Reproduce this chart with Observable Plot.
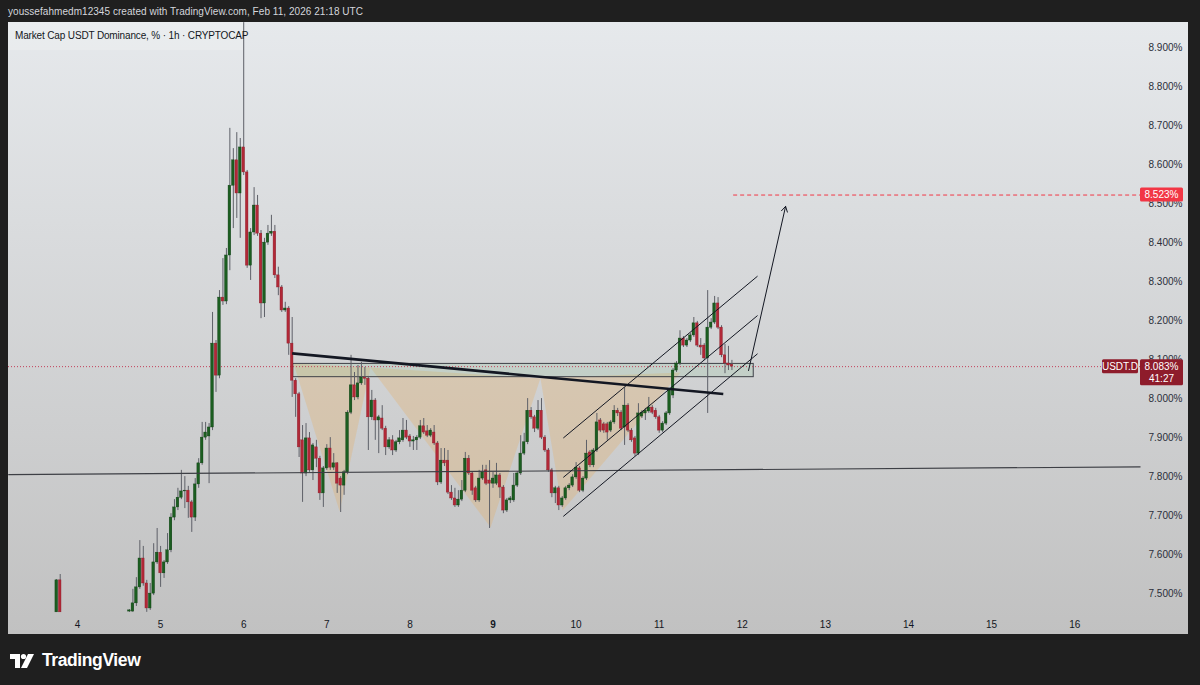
<!DOCTYPE html>
<html><head><meta charset="utf-8">
<script src="https://cdn.jsdelivr.net/npm/d3@7"></script>
<script src="https://cdn.jsdelivr.net/npm/@observablehq/plot@0.6"></script>
<style>
html,body{margin:0;padding:0;background:#1f1f1f;width:1200px;height:685px;overflow:hidden;font-family:"Liberation Sans",Arial,sans-serif;}
#header{position:absolute;left:8px;top:5px;color:#d4d6dc;font-size:10px;line-height:14px;white-space:nowrap;letter-spacing:0.05px;}
#panel{position:absolute;left:8px;top:22px;width:1180px;height:612px;background:linear-gradient(#e6e9ec,#c1c1c1);overflow:hidden;}
#legend{position:absolute;left:0;top:0;width:235px;height:28px;background:rgba(255,255,255,0.18);color:#131722;font-size:10px;letter-spacing:-0.15px;line-height:28px;padding-left:7px;box-sizing:border-box;white-space:nowrap;}
#chart{position:absolute;left:0;top:0;}
#logo{position:absolute;left:10px;top:650px;display:flex;align-items:center;color:#fff;font-size:17.5px;font-weight:bold;letter-spacing:-0.4px;}
</style></head>
<body>
<div id="header">youssefahmedm12345 created with TradingView.com, Feb 11, 2026 21:18 UTC</div>
<div id="panel"><div id="chart"></div><div id="legend">Market Cap USDT Dominance, % · 1h · CRYPTOCAP</div></div>
<div id="logo"><svg width="28" height="16" viewBox="0 0 28 16"><path d="M0 1H10V15H5V6H0Z" fill="#fff"/><circle cx="13.5" cy="3.5" r="2.6" fill="#fff"/><path d="M11 15L18 1H24L17 15Z" fill="#fff"/></svg><span style="margin-left:4px">TradingView</span></div>
<script>
// ---- data: hourly candles of USDT.D (hours counted from Feb 4 00:00 UTC) ----
const earlyHours  = [-6, -5];
const earlyOpens  = [7.453, 7.535];
const earlyHighs  = [7.537, 7.550];
const earlyLows   = [7.453, 7.453];
const earlyCloses = [7.535, 7.453];

const startHour = 15;
const opens = [7.455,7.455,7.476,7.517,7.591,7.527,7.463,7.501,7.581,7.606,7.553,7.581,7.612,7.696,7.722,7.747,7.763,7.765,7.735,7.696,
7.781,7.835,7.901,7.904,7.927,8.142,8.060,8.260,8.250,8.368,8.547,8.612,8.527,8.645,8.581,8.342,8.427,8.496,8.424,8.245,
8.401,8.424,8.429,8.317,8.286,8.227,8.232,8.142,8.047,8.012,7.894,7.809,7.899,7.817,7.876,7.847,7.758,7.822,7.873,7.824,
7.835,7.796,7.778,7.812,7.965,8.035,8.004,8.040,8.055,8.052,7.953,7.996,7.945,7.950,7.924,7.876,7.894,7.868,7.889,7.894,
7.919,7.904,7.891,7.894,7.901,7.930,7.917,7.906,7.914,7.886,7.786,7.842,7.842,7.760,7.745,7.727,7.742,7.765,7.847,7.809,
7.771,7.740,7.796,7.817,7.791,7.783,7.783,7.804,7.773,7.714,7.740,7.740,7.778,7.809,7.860,7.889,7.970,7.953,7.924,7.970,
7.901,7.868,7.817,7.758,7.771,7.727,7.745,7.771,7.778,7.799,7.822,7.765,7.796,7.863,7.830,7.868,7.945,7.935,7.935,7.919,
7.940,7.970,7.965,7.927,7.983,7.919,7.899,7.860,7.955,7.963,7.968,7.978,7.970,7.953,7.919,7.937,7.963,8.009,8.073,8.091,
8.155,8.137,8.150,8.163,8.194,8.137,8.137,8.104,8.183,8.196,8.245,8.183,8.112,8.091,8.088];
const highs = [7.460,7.512,7.542,7.637,7.622,7.535,7.527,7.629,7.668,7.622,7.586,7.655,7.706,7.742,7.771,7.817,7.801,7.776,7.740,7.796,
7.847,7.940,7.940,7.937,8.222,8.150,8.278,8.360,8.386,8.694,8.642,8.683,8.668,8.965,8.586,8.437,8.542,8.522,8.432,8.412,
8.445,8.471,8.445,8.338,8.291,8.248,8.237,8.209,8.052,8.017,7.932,7.937,7.914,7.886,7.894,7.853,7.827,7.883,7.901,7.860,
7.837,7.801,7.817,7.970,8.112,8.068,8.086,8.094,8.081,8.058,8.022,8.001,7.958,7.983,7.930,7.901,7.906,7.894,7.919,7.950,
7.945,7.909,7.904,7.906,7.945,7.950,7.932,7.924,7.932,7.891,7.873,7.873,7.868,7.778,7.771,7.765,7.791,7.863,7.855,7.812,
7.776,7.817,7.830,7.830,7.842,7.812,7.835,7.809,7.778,7.745,7.750,7.809,7.814,7.906,7.912,8.001,7.978,7.958,7.996,8.001,
7.906,7.873,7.822,7.776,7.776,7.750,7.776,7.783,7.806,7.837,7.827,7.801,7.894,7.868,7.873,7.963,7.950,7.940,7.940,7.945,
7.983,7.976,7.970,8.029,7.988,7.924,7.904,7.988,7.970,7.976,8.004,7.983,7.976,7.958,7.942,7.968,8.027,8.078,8.096,8.175,
8.160,8.155,8.168,8.209,8.199,8.155,8.142,8.278,8.206,8.263,8.260,8.188,8.140,8.135,8.099];
const lows = [7.453,7.453,7.468,7.512,7.520,7.453,7.458,7.496,7.576,7.517,7.540,7.576,7.606,7.688,7.714,7.742,7.719,7.694,7.658,7.686,
7.771,7.830,7.894,7.783,7.919,8.017,8.052,8.240,8.242,8.329,8.437,8.463,8.412,8.573,8.335,8.304,8.419,8.417,8.206,8.209,
8.394,8.417,8.309,8.265,8.222,8.222,8.112,8.004,7.953,7.850,7.735,7.801,7.812,7.791,7.824,7.740,7.722,7.817,7.817,7.817,
7.758,7.709,7.753,7.806,7.960,7.996,7.998,8.035,8.035,7.868,7.945,7.894,7.860,7.919,7.855,7.871,7.855,7.863,7.883,7.889,
7.896,7.876,7.868,7.868,7.896,7.909,7.901,7.901,7.881,7.778,7.781,7.827,7.755,7.740,7.722,7.722,7.737,7.760,7.804,7.753,
7.735,7.735,7.791,7.778,7.668,7.771,7.778,7.745,7.706,7.709,7.732,7.735,7.773,7.804,7.855,7.883,7.948,7.914,7.919,7.896,
7.863,7.812,7.747,7.732,7.714,7.722,7.740,7.765,7.773,7.794,7.760,7.760,7.791,7.824,7.824,7.863,7.914,7.912,7.894,7.914,
7.935,7.955,7.919,7.881,7.914,7.889,7.853,7.855,7.950,7.945,7.963,7.960,7.948,7.912,7.914,7.932,7.958,8.001,8.068,8.086,
8.132,8.132,8.145,8.158,8.132,8.112,8.099,7.963,8.178,8.191,8.178,8.106,8.065,8.073,8.073];
const closes = [7.458,7.476,7.517,7.591,7.527,7.463,7.501,7.581,7.606,7.553,7.581,7.612,7.696,7.722,7.747,7.763,7.765,7.735,7.696,7.781,
7.835,7.901,7.914,7.927,8.142,8.060,8.260,8.250,8.368,8.547,8.612,8.527,8.645,8.581,8.342,8.427,8.496,8.424,8.245,8.401,
8.424,8.429,8.317,8.286,8.227,8.232,8.142,8.047,8.012,7.876,7.809,7.899,7.817,7.881,7.847,7.758,7.822,7.873,7.824,7.835,
7.783,7.778,7.812,7.965,8.035,8.004,8.040,8.055,8.052,7.953,7.996,7.945,7.953,7.924,7.876,7.894,7.868,7.889,7.899,7.919,
7.901,7.891,7.894,7.901,7.930,7.914,7.906,7.919,7.886,7.786,7.842,7.835,7.760,7.745,7.727,7.742,7.765,7.847,7.809,7.765,
7.740,7.796,7.812,7.783,7.783,7.796,7.804,7.773,7.714,7.740,7.745,7.778,7.809,7.860,7.889,7.970,7.953,7.924,7.970,7.901,
7.868,7.817,7.758,7.771,7.727,7.745,7.771,7.778,7.799,7.824,7.765,7.796,7.860,7.830,7.868,7.940,7.919,7.919,7.914,7.940,
7.970,7.963,7.924,7.983,7.919,7.894,7.860,7.963,7.965,7.970,7.978,7.965,7.953,7.919,7.937,7.963,8.022,8.073,8.091,8.155,
8.137,8.150,8.163,8.194,8.137,8.132,8.104,8.183,8.196,8.245,8.183,8.112,8.091,8.086,8.083];

// axis ticks
const priceTicks = [7.5,7.6,7.7,7.8,7.9,8.0,8.1,8.2,8.3,8.4,8.5,8.6,8.7,8.8,8.9];
const dayLabels = [4,5,6,7,8,9,10,11,12,13,14,15,16];
const boldDays = [9];

// drawings (hour, value)
const supportHours = [-20, 307];      const supportValues = [7.806, 7.826];
const necklineHours = [62.0, 186.5];  const necklineValues = [8.117, 8.013];
const zoneHours = [62.3, 195.3];      const zoneValues = [8.056, 8.090];
const patternHours  = [62.4, 75.7, 84.6, 119.3, 133.7, 140.1, 174.2];
const patternValues = [8.091, 7.712, 8.081, 7.671, 8.053, 7.714, 8.068];
const channelHours = [140.3, 196.4];
const channelUpper = [7.900, 8.315];
const channelMiddle = [7.799, 8.214];
const channelLower = [7.699, 8.116];
const arrowHours = [193.8, 204.5];    const arrowValues = [8.073, 8.494];
const targetHour = 189.5;             const targetValue = 8.523;
const lastPrice = 8.083;              const countdown = "41:27";
const symbol = "USDT.D";

// ---- build ----
const xDomain = [-19.93, 307.0];
const yDomain = [7.4526, 8.9654];
const candles = [];
earlyHours.forEach((h, i) => candles.push({h, o: earlyOpens[i], hi: earlyHighs[i], lo: earlyLows[i], c: earlyCloses[i]}));
opens.forEach((o, i) => candles.push({h: startHour + i, o, hi: highs[i], lo: lows[i], c: closes[i]}));
const GREEN = "#1b5e20", RED = "#b22837", WICK = "#5e6068";

const tris = [];
[[0,1,2,"L"],[2,3,4,"H"],[4,5,6,"R"]].forEach(([a,b,c,z]) => {
  [a,b,c].forEach(i => tris.push({h: patternHours[i], v: patternValues[i], z}));
});
const seg = (hs, vs) => [{x1: hs[0], y1: vs[0], x2: hs[1], y2: vs[1]}];
const font = "Liberation Sans, Arial, sans-serif";

const chart = Plot.plot({
  width: 1180, height: 612,
  marginLeft: 0, marginRight: 48, marginTop: 0, marginBottom: 22,
  style: {background: "transparent", fontFamily: font, fontSize: "10px", overflow: "visible"},
  x: {type: "linear", domain: xDomain, axis: null},
  y: {type: "linear", domain: yDomain, axis: null},
  marks: [
    Plot.line(tris, {x: "h", y: "v", z: "z", fill: "#e9a955", fillOpacity: 0.27, stroke: "none", curve: "linear-closed"}),
    Plot.rect(seg(zoneHours, zoneValues), {x1: "x1", x2: "x2", y1: "y1", y2: "y2", fill: "#7cc387", fillOpacity: 0.16, stroke: "#3f4148", strokeWidth: 1}),
    Plot.ruleY([lastPrice], {stroke: "#c2405a", strokeWidth: 1, strokeDasharray: "1,2"}),
    Plot.ruleX(candles, {x: "h", y1: "lo", y2: "hi", stroke: WICK, strokeWidth: 1}),
    Plot.rect(candles, {
      x1: d => d.h - 0.375, x2: d => d.h + 0.375,
      y1: d => Math.min(d.o, d.c), y2: d => Math.max(d.o, d.c, Math.min(d.o, d.c) + 0.002),
      fill: d => d.c >= d.o ? GREEN : RED, stroke: d => d.c >= d.o ? "#0c3d10" : "#8c1d2a", strokeWidth: 0.4
    }),
    Plot.link(seg(supportHours, supportValues), {x1: "x1", y1: "y1", x2: "x2", y2: "y2", stroke: "#3d3f45", strokeWidth: 1.2}),
    Plot.link(seg(necklineHours, necklineValues), {x1: "x1", y1: "y1", x2: "x2", y2: "y2", stroke: "#131722", strokeWidth: 2.6}),
    Plot.link([channelUpper, channelMiddle, channelLower].map(vs => seg(channelHours, vs)[0]), {x1: "x1", y1: "y1", x2: "x2", y2: "y2", stroke: "#131722", strokeWidth: 1}),
    Plot.arrow(seg(arrowHours, arrowValues), {x1: "x1", y1: "y1", x2: "x2", y2: "y2", stroke: "#131722", strokeWidth: 1, headLength: 9}),
    Plot.ruleY([targetValue], {x1: targetHour, x2: xDomain[1], stroke: "#f23645", strokeWidth: 1, strokeDasharray: "4,3"}),
    Plot.axisY(priceTicks, {anchor: "right", tickSize: 0, tickPadding: 8, tickFormat: d => d.toFixed(3) + "%", fill: "#2a2e39", fontSize: 10}),
    Plot.text(dayLabels.filter(d => !boldDays.includes(d)), {x: d => (d - 4) * 24, y: yDomain[0], dy: 12, text: d => String(d), fill: "#131722", fontSize: 10}),
    Plot.text(boldDays, {x: d => (d - 4) * 24, y: yDomain[0], dy: 12, text: d => String(d), fill: "#131722", fontSize: 10, fontWeight: "bold"})
  ]
});
document.getElementById("chart").appendChild(chart);

// price tags on the scale
const ys = chart.scale("y");
const svg = d3.select(chart);
const axisX0 = 1180 - 48 - 1;
function tag(x, w, yTop, h, fill, lines) {
  const g = svg.append("g");
  g.append("rect").attr("x", x).attr("y", yTop).attr("width", w).attr("height", h).attr("rx", 1.5).attr("fill", fill);
  lines.forEach((t, i) => g.append("text").attr("x", x + w / 2).attr("y", yTop + 7 + i * 12).attr("dy", "0.35em")
    .attr("text-anchor", "middle").attr("fill", "#fff").attr("font-size", 10).attr("font-family", font).text(t));
}
const yT = ys.apply(targetValue);
tag(axisX0 + 1, 43, yT - 7, 14, "#f23645", [targetValue.toFixed(3) + "%"]);
const yL = ys.apply(lastPrice);
tag(axisX0 + 1, 43, yL - 7, 26, "#8e1c2b", [lastPrice.toFixed(3) + "%", countdown]);
tag(axisX0 - 37, 36, yL - 7, 14, "#8e1c2b", [symbol]);
</script>
</body></html>
